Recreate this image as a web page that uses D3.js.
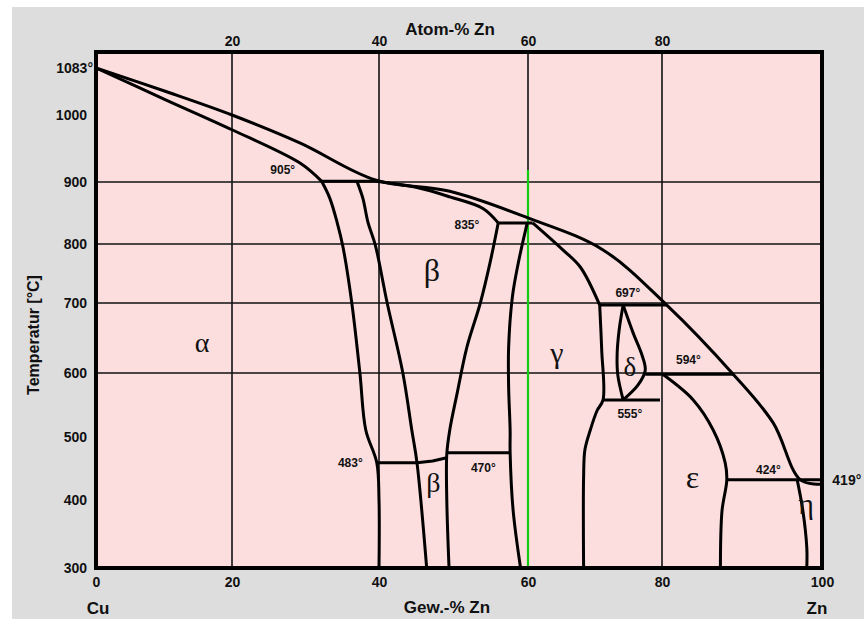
<!DOCTYPE html>
<html>
<head>
<meta charset="utf-8">
<script src="https://cdn.jsdelivr.net/npm/d3@7"></script>
<style>
  body { margin: 0; background: #fff; }
  text { font-family: "Liberation Sans", Arial, sans-serif; }
  .greek { font-family: "Liberation Serif", "DejaVu Serif", serif; }
</style>
</head>
<body>
<div id="chart"></div>
<script>
// phase boundaries as [wt-% Zn, temperature °C]
const liquidus = [[0, 1083], [10.4, 1041], [20, 1000], [29.3, 958], [39.5, 903], [49.5, 885], [60, 842], [71.2, 790], [80.6, 697], [88.9, 598], [93.9, 522], [97.3, 432], [100, 425]];
const solidusAlpha = [[0, 1083], [10.4, 1026], [20, 978], [29.3, 928], [32.2, 901]];
const solidusBeta = [[39.5, 901], [45.1, 891], [49.5, 876], [54.0, 857], [56.0, 834]];
const alphaSolvus = [[32.2, 901], [33.3, 874], [34.3, 835], [35.1, 795], [36.3, 700], [37.4, 600], [38.2, 511], [39.7, 459], [40, 400], [40, 300]];
const betaLeft = [[37.0, 901], [37.8, 874], [38.5, 835], [39.5, 798], [41.1, 700], [43.2, 600], [44.4, 511], [45.1, 459], [46.4, 300]];
const betaRight = [[56.0, 834], [54.9, 768], [53.6, 700], [51.8, 637], [50.5, 569], [49.5, 511], [49.1, 473], [49.1, 400], [49.4, 300]];
const gammaLeft = [[59.9, 834], [58.7, 768], [57.9, 710], [57.4, 637], [57.4, 578], [57.6, 511], [57.6, 475], [58.0, 385], [59.0, 300]];
const gammaSolidus = [[60.7, 834], [65.2, 790], [67.8, 761], [70.7, 697]];
const gammaRight = [[70.7, 697], [71.0, 633], [71.2, 558], [70.3, 541], [69.3, 511], [68.5, 480], [68.3, 437], [68.3, 300]];
const deltaLeft = [[74.2, 697], [73.6, 661], [73.3, 626], [73.4, 597], [74.2, 558]];
const deltaRight = [[74.2, 697], [75.7, 657], [77.0, 626], [77.5, 604], [76.4, 581], [74.2, 558]];
const epsLeft = [[80.1, 598], [83.9, 558], [86.4, 511], [87.9, 459], [88.1, 432], [87.5, 384], [87.3, 300]];
const epsRight = [[96.9, 432], [97.6, 385], [98.1, 330], [98.1, 300]];

// invariant (horizontal) lines
const isotherms = [
  [[32.2, 901], [39.5, 901]],
  [[56.0, 834], [60.7, 834]],
  [[70.7, 697], [80.6, 697]],
  [[77.5, 598], [88.9, 598]],
  [[71.2, 558], [79.7, 558]],
  [[39.7, 459], [45.1, 459], [47.2, 462], [49.1, 467]],
  [[49.1, 475], [57.6, 475]],
  [[88.1, 432], [100, 432]],
];

const isothermLabels = [
  { text: "905°", x: 26.9, t: 918, size: 12 },
  { text: "835°", x: 51.8, t: 831, size: 12 },
  { text: "483°", x: 36.1, t: 459, size: 12 },
  { text: "470°", x: 54.0, t: 451, size: 12 },
  { text: "697°", x: 74.9, t: 717, size: 12 },
  { text: "594°", x: 83.3, t: 619, size: 12 },
  { text: "555°", x: 75.2, t: 536, size: 12 },
  { text: "424°", x: 93.3, t: 448, size: 12 },
  { text: "419°", x: 103.1, t: 432, size: 14 },
];

const phaseLabels = [
  { text: "α", x: 15.6, t: 643, size: 28 },
  { text: "β", x: 47.1, t: 756, size: 32 },
  { text: "β", x: 47.3, t: 427, size: 28 },
  { text: "γ", x: 64.3, t: 630, size: 30 },
  { text: "δ", x: 75.2, t: 608, size: 27 },
  { text: "ε", x: 83.8, t: 437, size: 32 },
  { text: "η", x: 98.0, t: 395, size: 30 },
];

const wtTicks = [0, 20, 40, 60, 80, 100];
const atTicks = [20, 40, 60, 80];
const tempTicks = [300, 400, 500, 600, 700, 800, 900, 1000, 1083];
const gridX = [20, 40, 60, 80];
const gridY = [600, 700, 800, 900];
const markerWt = 60;

const W = 864, H = 619;
const plot = { left: 96, right: 822, top: 52, bottom: 568 };

const svg = d3.select("#chart").append("svg").attr("width", W).attr("height", H);

// scanned original is slightly stretched, so piecewise scales
const x = d3.scaleLinear().domain([0, 20, 40, 60, 80, 100]).range([96, 232, 379, 528, 662, 822]);
const y = d3.scaleLinear().domain([300, 400, 500, 600, 700, 800, 900, 1000, 1083]).range([568, 500, 437, 373, 303, 244, 182, 115, 68]);

svg.append("rect").attr("x", 12).attr("y", 7).attr("width", W - 12).attr("height", H - 7).attr("fill", "#dddddd");

svg.append("rect")
  .attr("x", plot.left).attr("y", plot.top)
  .attr("width", plot.right - plot.left).attr("height", plot.bottom - plot.top)
  .attr("fill", "#fcdede");

const grid = svg.append("g").attr("stroke", "#111").attr("stroke-width", 1.6);
grid.selectAll(".gx").data(gridX).enter().append("line")
  .attr("x1", (d) => x(d)).attr("x2", (d) => x(d))
  .attr("y1", plot.top).attr("y2", plot.bottom);
grid.selectAll(".gy").data(gridY).enter().append("line")
  .attr("x1", plot.left).attr("x2", plot.right)
  .attr("y1", (d) => y(d)).attr("y2", (d) => y(d));

svg.append("line")
  .attr("x1", x(markerWt)).attr("x2", x(markerWt))
  .attr("y1", y(918)).attr("y2", plot.bottom)
  .attr("stroke", "#11cc11").attr("stroke-width", 2.2);

const line = d3.line().x((d) => x(d[0])).y((d) => y(d[1]));
const curve = d3.line().x((d) => x(d[0])).y((d) => y(d[1])).curve(d3.curveCatmullRom.alpha(0.5));

const phases = svg.append("g").attr("fill", "none").attr("stroke", "#000").attr("stroke-width", 3).attr("stroke-linejoin", "round");
[liquidus, solidusAlpha, solidusBeta, alphaSolvus, betaLeft, betaRight, gammaLeft, gammaSolidus, gammaRight, deltaLeft, deltaRight, epsLeft, epsRight]
  .forEach((b) => phases.append("path").datum(b).attr("d", curve));
isotherms.forEach((b) => phases.append("path").datum(b).attr("d", line));

svg.append("rect")
  .attr("x", plot.left).attr("y", plot.top)
  .attr("width", plot.right - plot.left).attr("height", plot.bottom - plot.top)
  .attr("fill", "none").attr("stroke", "#000").attr("stroke-width", 4);

svg.selectAll(".iso-label").data(isothermLabels).enter().append("text")
  .attr("x", (d) => x(d.x)).attr("y", (d) => y(d.t))
  .attr("text-anchor", "middle").attr("dominant-baseline", "central")
  .attr("font-size", (d) => d.size).attr("font-weight", "bold").attr("fill", "#111")
  .text((d) => d.text);

svg.selectAll(".phase-label").data(phaseLabels).enter().append("text")
  .attr("class", "greek")
  .attr("x", (d) => x(d.x)).attr("y", (d) => y(d.t))
  .attr("text-anchor", "middle").attr("dominant-baseline", "central")
  .attr("font-size", (d) => d.size).attr("fill", "#111")
  .text((d) => d.text);

// axes
const axisLeft = svg.append("g")
  .attr("transform", `translate(${plot.left - 9},0)`)
  .call(d3.axisLeft(y).tickValues(tempTicks).tickSize(0).tickPadding(0)
    .tickFormat((d) => (d === 1083 ? "1083°" : d)));
axisLeft.select(".domain").remove();
axisLeft.selectAll("text").attr("font-size", 14).attr("font-weight", "bold").attr("fill", "#111");
axisLeft.selectAll("text").filter((d) => d === 1083).attr("dx", 6);

const axisBottom = svg.append("g")
  .attr("transform", `translate(0,${plot.bottom})`)
  .call(d3.axisBottom(x).tickValues(wtTicks).tickSize(0).tickPadding(9));
axisBottom.select(".domain").remove();
axisBottom.selectAll("text").attr("font-size", 14).attr("font-weight", "bold").attr("fill", "#111");

const axisTop = svg.append("g")
  .attr("transform", `translate(0,${plot.top})`)
  .call(d3.axisTop(x).tickValues(atTicks).tickSize(0).tickPadding(6));
axisTop.select(".domain").remove();
axisTop.selectAll("text").attr("font-size", 14).attr("font-weight", "bold").attr("fill", "#111");

svg.append("text").attr("x", 450).attr("y", 35).attr("text-anchor", "middle")
  .attr("font-size", 17).attr("font-weight", "bold").attr("fill", "#111").text("Atom-% Zn");
svg.append("text").attr("x", 447).attr("y", 613).attr("text-anchor", "middle")
  .attr("font-size", 17).attr("font-weight", "bold").attr("fill", "#111").text("Gew.-% Zn");
svg.append("text").attr("x", 98).attr("y", 614).attr("text-anchor", "middle")
  .attr("font-size", 17).attr("font-weight", "bold").attr("fill", "#111").text("Cu");
svg.append("text").attr("x", 817).attr("y", 614).attr("text-anchor", "middle")
  .attr("font-size", 17).attr("font-weight", "bold").attr("fill", "#111").text("Zn");
svg.append("text")
  .attr("transform", "translate(39,335) rotate(-90)")
  .attr("text-anchor", "middle")
  .attr("font-size", 16).attr("font-weight", "bold").attr("fill", "#111")
  .text("Temperatur [°C]");
</script>
</body>
</html>
